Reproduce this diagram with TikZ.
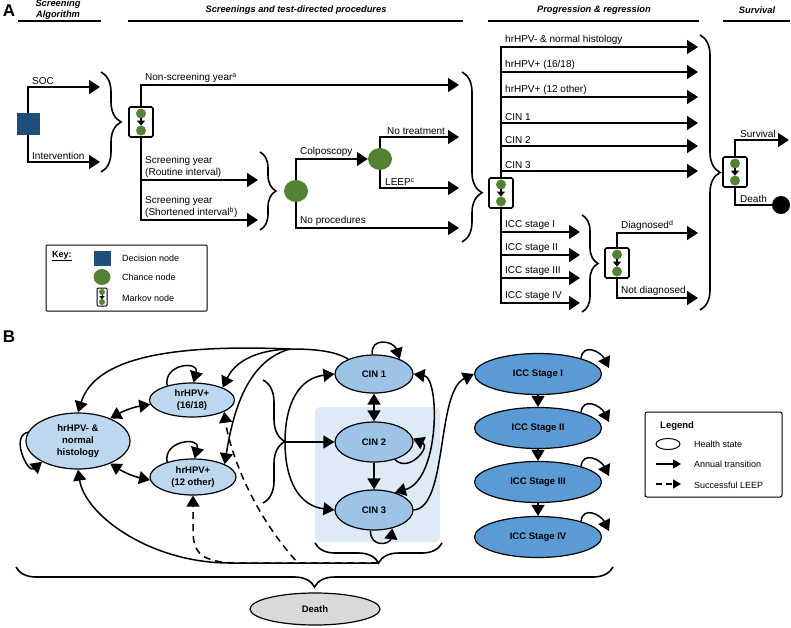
\documentclass[tikz,border=0pt]{standalone}
\usepackage{fontspec}
\setmainfont{Liberation Sans}
\usetikzlibrary{arrows.meta,shapes.geometric,decorations.pathreplacing,calc}
\definecolor{decblue}{RGB}{31,78,121}
\definecolor{cgreen}{RGB}{84,130,53}
\definecolor{hpvblue}{RGB}{189,215,238}
\definecolor{cinblue}{RGB}{157,195,230}
\definecolor{iccblue}{RGB}{91,155,213}
\definecolor{shadebg}{RGB}{222,235,247}
\definecolor{deathgray}{RGB}{217,217,217}
\begin{document}
\begin{tikzpicture}[x=1pt,y=-1pt,
  lbl/.style={font=\fontsize{10}{12}\selectfont, inner sep=1pt, anchor=south west, align=left},
  klbl/.style={font=\fontsize{9}{11}\selectfont, inner sep=0pt, anchor=west},
  hdr/.style={font=\fontsize{9.3}{10.5}\selectfont\bfseries\itshape, inner sep=0pt, align=center},
  panel/.style={font=\fontsize{17}{17}\selectfont\bfseries, inner sep=0pt},
  hline/.style={line width=1.4pt},
  conn/.style={line width=1.6pt},
  arrA/.style={line width=1.6pt, -{Triangle[length=11pt,width=14pt]}},
  arrB/.style={line width=1.5pt, -{Triangle[length=11pt,width=13pt]}},
  dblB/.style={line width=1.5pt, {Triangle[length=11pt,width=13pt]}-{Triangle[length=11pt,width=13pt]}},
  arrL/.style={line width=1.5pt, -{Triangle[length=8pt,width=9pt]}},
  leepdash/.style={dash pattern=on 7pt off 5pt},
  brc/.style={line width=1.6pt, decorate, decoration={brace, amplitude=#1}},
  chance/.style={ellipse, fill=cgreen, inner sep=0pt, minimum width=24pt, minimum height=22pt},
  decision/.style={fill=decblue, inner sep=0pt},
  markov/.style={draw, line width=1.6pt, rounded corners=1.5pt, minimum width=24pt, minimum height=30pt, inner sep=0pt,
    path picture={
      \fill[cgreen] ([yshift=8.5pt]path picture bounding box.center) circle (5pt);
      \fill[cgreen] ([yshift=-8.5pt]path picture bounding box.center) circle (5pt);
      \draw[line width=1.2pt, -{Triangle[length=5pt,width=8pt]}] ([yshift=4pt]path picture bounding box.center) -- ([yshift=-3.6pt]path picture bounding box.center);
    }},
  markovS/.style={draw, line width=1pt, rounded corners=1pt, minimum width=10pt, minimum height=18pt, inner sep=0pt,
    path picture={
      \fill[cgreen] ([yshift=5pt]path picture bounding box.center) circle (3pt);
      \fill[cgreen] ([yshift=-5pt]path picture bounding box.center) circle (3pt);
      \draw[line width=0.8pt, -{Triangle[length=3pt,width=5pt]}] ([yshift=2.4pt]path picture bounding box.center) -- ([yshift=-2.2pt]path picture bounding box.center);
    }},
  state/.style={ellipse, draw, line width=1.2pt, inner sep=0pt, align=center, font=\fontsize{9.5}{12}\selectfont\bfseries},
  ]
\useasboundingbox (0,0) rectangle (791,627);

% ---------------- Panel A headers
\node[panel] (lA) at (9,11) {A};
\node[hdr] (h1) at (58,9.5) {Screening\\Algorithm};
\draw[hline] (18,21) -- (101,21);
\node[hdr] (h2) at (296,10) {Screenings and test-directed procedures};
\draw[hline] (128,21) -- (463,21);
\node[hdr] (h3) at (594,10) {Progression \& regression};
\draw[hline] (488,21) -- (699,21);
\node[hdr] (h4) at (757,10) {Survival};
\draw[hline] (723,21) -- (790,21);

% ---------------- Panel A tree
\node[decision, minimum width=23pt, minimum height=22pt] (dec) at (28,124) {};
\coordinate (socE) at (100,87);
\coordinate (intE) at (100,162);
\draw[arrA] (dec.north) |- (socE);
\draw[arrA] (dec.south) |- (intE);
\node[lbl] (tsoc) at (31,86) {SOC};
\node[lbl] (tint) at (31,161) {Intervention};
\draw[brc=20pt] (101,72) -- (101,172);

\node[markov] (m1) at (141,122) {};
\coordinate (nsE) at (459,85);
\coordinate (rtE) at (258,180);
\coordinate (shE) at (258,220);
\draw[arrA] (m1.north) |- (nsE);
\draw[arrA] (m1.south) |- (rtE);
\draw[arrA] (m1.south) |- (shE);
\node[lbl] (tns) at (144,84) {Non-screening year\textsuperscript{a}};
\node[lbl] (trt) at (144,179) {Screening year\\(Routine interval)};
\node[lbl] (tsh) at (144,219) {Screening year\\(Shortened interval\textsuperscript{b})};
\draw[brc=16pt] (260,152) -- (260,230);

\node[chance] (c1) at (296,191) {};
\node[chance] (c2) at (380,159) {};
\coordinate (ntE) at (459,137);
\coordinate (lpE) at (459,188);
\coordinate (npE) at (459,228);
\draw[arrA] (c1.north) |- (c2.west);
\draw[arrA] (c1.south) |- (npE);
\draw[arrA] (c2.north) |- (ntE);
\draw[arrA] (c2.south) |- (lpE);
\node[lbl] (tcol) at (299,158) {Colposcopy};
\node[lbl] (tnt) at (386,136) {No treatment};
\node[lbl] (tlp) at (384,187) {LEEP\textsuperscript{c}};
\node[lbl] (tnp) at (299,227) {No procedures};
\draw[brc=20pt, decoration={aspect=0.71}] (462,72) -- (462,242);

\node[markov] (m2) at (501,193) {};
\foreach \yy/\lab [count=\i] in {47/{hrHPV- \& normal histology},72/{hrHPV+ (16/18)},97/{hrHPV+ (12 other)},123/{CIN 1},146/{CIN 2},171/{CIN 3}}{
  \coordinate (pe\i) at (698,\yy);
  \draw[arrA] (m2.north) |- (pe\i);
  \node[lbl] (pl\i) at (504,\yy-1) {\lab};
}
\foreach \yy/\lab [count=\i] in {232/{ICC stage I},255/{ICC stage II},278/{ICC stage III},303/{ICC stage IV}}{
  \coordinate (ie\i) at (580,\yy);
  \draw[arrA] (m2.south) |- (ie\i);
  \node[lbl] (il\i) at (504,\yy-1) {\lab};
}
\draw[brc=16pt] (582,215) -- (582,312);
\node[markov] (m4) at (617,263) {};
\coordinate (dgE) at (698,233);
\coordinate (ndE) at (698,298);
\draw[arrA] (m4.north) |- (dgE);
\draw[arrA] (m4.south) |- (ndE);
\node[lbl] (tdg) at (620,232) {Diagnosed\textsuperscript{d}};
\node[lbl] (tnd) at (620,297) {Not diagnosed};

\draw[brc=20pt] (700,35) -- (700,310);
\node[markov] (m3) at (735,172) {};
\coordinate (svE) at (789,140);
\draw[arrA] (m3.north) |- (svE);
\node[circle, fill=black, minimum size=18pt, inner sep=0pt] (deadA) at (781,205) {};
\draw[conn] (m3.south) |- (deadA.west);
\node[lbl] (tsv) at (739,139) {Survival};
\node[lbl] (tdd) at (739,204) {Death};

% Key
\node[draw, line width=1pt, rounded corners=1pt, minimum width=161pt, minimum height=66pt, inner sep=0pt] (keybox) at (126.5,278) {};
\node[font=\fontsize{9}{11}\selectfont\bfseries, anchor=west, inner sep=0pt] (keyt) at (52,256) {\underline{Key:}};
\node[decision, minimum width=17pt, minimum height=15pt] (kdec) at (102,258) {};
\node[ellipse, fill=cgreen, minimum width=17pt, minimum height=16pt, inner sep=0pt] (kch) at (102,277) {};
\node[markovS] (kmk) at (102,297) {};
\node[klbl] (kl1) at (122,258) {Decision node};
\node[klbl] (kl2) at (122,277) {Chance node};
\node[klbl] (kl3) at (122,298) {Markov node};

% ---------------- Panel B
\node[panel] (lB) at (9,337) {B};
\node[fill=shadebg, rounded corners=5pt, minimum width=125pt, minimum height=135pt, inner sep=0pt] (cinbox) at (377.5,474.5) {};
\node[state, fill=hpvblue, minimum width=104pt, minimum height=56pt] (hn) at (78,441) {hrHPV- \&\\normal\\histology};
\node[state, fill=hpvblue, minimum width=85pt, minimum height=34pt] (h16) at (192,400) {hrHPV+\\(16/18)};
\node[state, fill=hpvblue, minimum width=86pt, minimum height=36pt] (h12) at (193,477) {hrHPV+\\(12 other)};
\node[state, fill=cinblue, minimum width=78pt, minimum height=38pt] (cin1) at (374,374) {CIN 1};
\node[state, fill=cinblue, minimum width=78pt, minimum height=40pt] (cin2) at (374,442) {CIN 2};
\node[state, fill=cinblue, minimum width=78pt, minimum height=40pt] (cin3) at (374,510) {CIN 3};
\foreach \yy/\nm/\lab in {374/icc1/I, 428/icc2/II, 482/icc3/III, 537/icc4/IV}
  \node[state, fill=iccblue, minimum width=127pt, minimum height=41pt] (\nm) at (538,\yy) {ICC Stage \lab};
\node[state, fill=deathgray, minimum width=130pt, minimum height=32pt] (death) at (315,609) {Death};

% braces
\draw[brc=22pt] (263,380) -- (263,503);
\coordinate (bt) at (285,442);
\draw[brc=20pt] (442,543) -- (315,543);
\coordinate (jb) at (378,563);
\draw[brc=20pt] (613,567) -- (16,567);

% regression arcs from CIN 1
\coordinate (j1) at (290,349);
\draw[arrB] (cin1.150) .. controls (335,351) and (315,349) .. (j1) .. controls (170,344) and (95,358) .. (hn.90);
\draw[arrB] (j1) .. controls (255,350) and (235,362) .. (h16.22);
\draw[arrB] (j1) .. controls (250,360) and (234,405) .. (h12.22);
% hrHPV transitions
\draw[dblB] (hn.35) to[bend left=10] (h16.186);
\draw[dblB] (hn.-35) to[bend right=10] (h12.184);
% self loops
\draw[arrB] (h16.150) .. controls +(-4,-22) and +(6,-22) .. (h16.85);
\draw[arrB] (h12.150) .. controls +(-4,-22) and +(6,-22) .. (h12.85);
\draw[arrB] (hn.170) .. controls +(-18,4) and +(-14,12) .. (hn.210);
\draw[arrB] (cin1.95) .. controls +(-2,-18) and +(-6,-18) .. (cin1.30);
\draw[arrB] (cin2.-40) .. controls +(14,14) and +(18,8) .. (cin2.5);
\draw[arrB] (cin3.-100) .. controls +(0,18) and +(-2,16) .. (cin3.-45);
\foreach \nm in {icc1,icc2,icc3,icc4}
  \draw[arrB] (\nm.20) .. controls +(2,-16) and +(-8,-16) .. ($(\nm.center)+(71,-6)$);
% bottom returns
\draw[arrB] (jb) -- (230,563) .. controls (150,563) and (85,515) .. (hn.south);
\draw[arrB, leepdash] (jb) -- (240,563) .. controls (200,563) and (193,552) .. (193,530) -- (h12.south);
\draw[arrB, leepdash] (jb) -- (298,563) .. controls (245,505) and (228,440) .. (h16.-20);
% into CIN states
\draw[arrB] (bt) -- (cin2.west);
\draw[arrB] (bt) .. controls (285,402) and (300,378) .. (cin1.west);
\draw[arrB] (bt) .. controls (285,482) and (300,506) .. (cin3.west);
\draw[dblB] (cin1.south) -- (cin2.north);
\draw[arrB] (cin2.south) -- (cin3.north);
\draw[dblB] (cin1.east) .. controls (440,378) and (440,480) .. (cin3.40);
\draw[arrB] (cin3.east) .. controls (448,508) and (436,392) .. (icc1.west);
\draw[arrB] (icc1.south) -- (icc2.north);
\draw[arrB] (icc2.south) -- (icc3.north);
\draw[arrB] (icc3.south) -- (icc4.north);

% Legend
\node[draw, line width=1pt, rounded corners=2pt, minimum width=137pt, minimum height=85pt, inner sep=0pt] (legbox) at (713.5,454.5) {};
\node[font=\fontsize{9.5}{11}\selectfont\bfseries, anchor=west, inner sep=0pt] (legt) at (660,426) {Legend};
\node[ellipse, draw, line width=1pt, minimum width=24pt, minimum height=11pt, inner sep=0pt] (legell) at (668,444) {};
\coordinate (la1) at (656,464); \coordinate (la2) at (681,464);
\draw[arrL] (la1) -- (la2);
\coordinate (lb1) at (656,484); \coordinate (lb2) at (681,484);
\draw[arrL, dash pattern=on 6pt off 4pt] (lb1) -- (lb2);
\node[klbl] (lg1) at (694,444) {Health state};
\node[klbl] (lg2) at (694,464) {Annual transition};
\node[klbl] (lg3) at (694,485) {Successful LEEP};
\end{tikzpicture}
\end{document}
